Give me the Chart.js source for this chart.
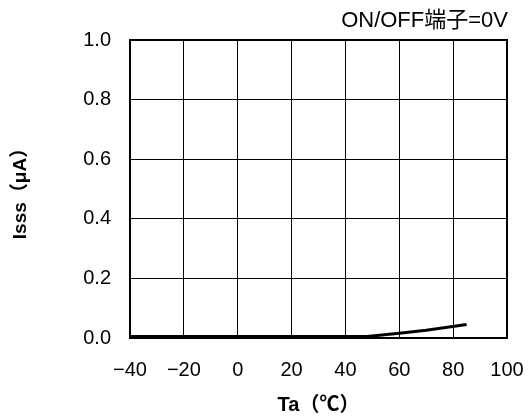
<!DOCTYPE html>
<html>
<head>
<meta charset="utf-8">
<script src="https://cdn.jsdelivr.net/npm/chart.js@4.4.0/dist/chart.umd.min.js"></script>
<style>
  html, body { margin: 0; padding: 0; background: #fff; }
  #wrap { width: 529px; height: 420px; position: relative; }
</style>
</head>
<body>
<div id="wrap"><canvas id="chart" width="529" height="420"></canvas></div>
<script>
// temperature (°C) and standby current (µA)
var temps = [-40, 0, 48, 60, 70, 85];
var isss = [0.005, 0.005, 0.005, 0.016, 0.026, 0.045];
var xTicks = [-40, -20, 0, 20, 40, 60, 80, 100];
var yTicks = [0, 0.2, 0.4, 0.6, 0.8, 1.0];

var noteText = 'ON/OFF端子=0V';
var fontFamily = '"Liberation Sans", Arial, "Noto Sans CJK JP", sans-serif';

var points = temps.map(function (t, i) {
    return { x: t, y: isss[i] };
});

// note at top-right and the full frame round the plot
var extrasPlugin = {
    id: 'extras',
    afterDraw: function (chart) {
        var ctx = chart.ctx;
        var a = chart.chartArea;
        ctx.save();
        ctx.strokeStyle = '#000';
        ctx.lineWidth = 2;
        ctx.strokeRect(a.left, a.top, a.right - a.left, a.bottom - a.top);
        ctx.font = '22px ' + fontFamily;
        ctx.fillStyle = '#000';
        ctx.textAlign = 'right';
        ctx.textBaseline = 'middle';
        ctx.fillText(noteText, a.right + 1, 21);
        ctx.restore();
    }
};

new Chart(document.getElementById('chart'), {
    type: 'line',
    data: {
        datasets: [{
            data: points,
            borderColor: '#000',
            borderWidth: 3,
            pointRadius: 0,
            tension: 0,
            fill: false
        }]
    },
    options: {
        responsive: false,
        animation: false,
        layout: { padding: { top: 40, right: 22, bottom: 0, left: 0 } },
        plugins: { legend: { display: false }, tooltip: { enabled: false } },
        scales: {
            x: {
                type: 'linear',
                min: -40,
                max: 100,
                afterBuildTicks: function (axis) {
                    axis.ticks = xTicks.map(function (v) { return { value: v }; });
                },
                afterFit: function (axis) {
                    axis.height = 82;
                    axis.paddingLeft = 0;
                    axis.paddingRight = 0;
                },
                border: { color: '#000', width: 2 },
                grid: { color: '#000', lineWidth: 1, drawTicks: false },
                ticks: {
                    color: '#000',
                    padding: 20,
                    maxRotation: 0,
                    font: { family: fontFamily, size: 20 },
                    callback: function (v) { return v < 0 ? '\u2212' + Math.abs(v) : String(v); }
                },
                title: {
                    display: true,
                    text: 'Ta（℃）',
                    color: '#000',
                    padding: { top: 0, bottom: 3 },
                    font: { family: fontFamily, size: 20, weight: 'bold' }
                }
            },
            y: {
                type: 'linear',
                min: 0,
                max: 1.0,
                afterBuildTicks: function (axis) {
                    axis.ticks = yTicks.map(function (v) { return { value: v }; });
                },
                afterFit: function (axis) { axis.width = 130; },
                border: { color: '#000', width: 2 },
                grid: { color: '#000', lineWidth: 1, drawTicks: false },
                ticks: {
                    color: '#000',
                    padding: 19,
                    font: { family: fontFamily, size: 20 },
                    callback: function (v) { return v.toFixed(1); }
                },
                title: {
                    display: true,
                    text: 'Isss（μA）',
                    color: '#000',
                    padding: { top: 9, bottom: 0 },
                    font: { family: fontFamily, size: 19, weight: 'bold' }
                }
            }
        }
    },
    plugins: [extrasPlugin]
});
</script>
</body>
</html>
